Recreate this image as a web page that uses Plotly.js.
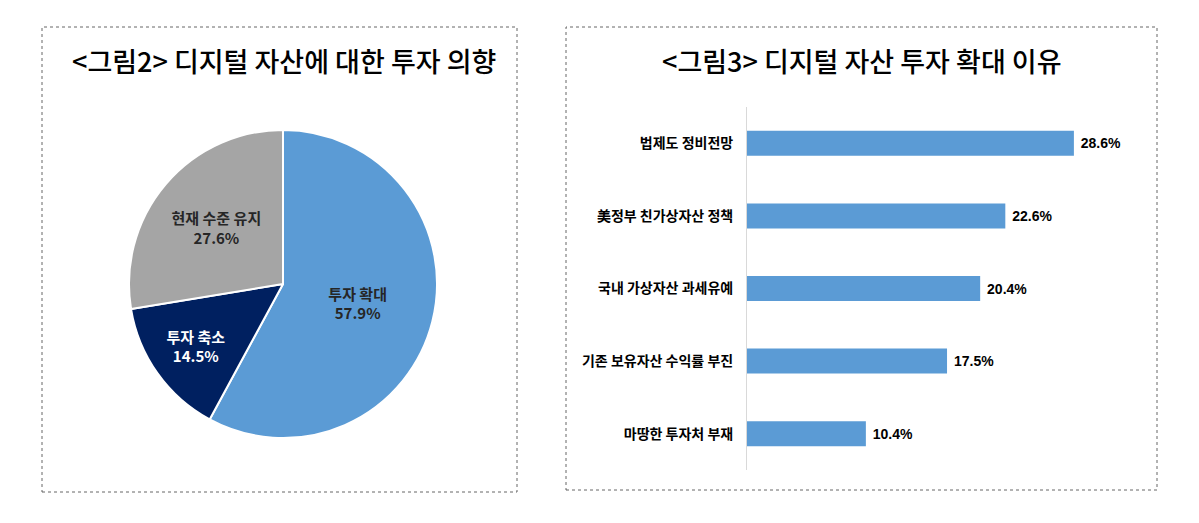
<!DOCTYPE html>
<html>
<head>
<meta charset="utf-8">
<script src="https://cdn.plot.ly/plotly-3.0.1.min.js"></script>
<style>
  html, body { margin: 0; padding: 0; background: #fff; }
  #chart { width: 1199px; height: 523px; }
</style>
</head>
<body>
<div id="chart"></div>
<script>
// <그림2> pie: investment intention
var pieLabels = ['투자 확대', '투자 축소', '현재 수준 유지'];
var pieValues = [57.9, 14.5, 27.6];
var pieColors = ['#5B9BD5', '#002060', '#A5A5A5'];
var pieTextColors = ['#262626', '#ffffff', '#262626'];

// <그림3> bars: reasons for expanding investment
var reasonLabels = ['법제도 정비전망', '美정부 친가상자산 정책', '국내 가상자산 과세유예', '기존 보유자산 수익률 부진', '마땅한 투자처 부재'];
var reasonValues = [28.6, 22.6, 20.4, 17.5, 10.4];

var W = 1199, H = 523;
function px(x) { return x / W; }
function py(y) { return (H - y) / H; }

var krFont = '"Noto Sans CJK KR", "Noto Sans", sans-serif';

var pie = {
  type: 'pie',
  labels: pieLabels,
  values: pieValues,
  sort: false,
  direction: 'clockwise',
  rotation: 0,
  marker: { colors: pieColors, line: { color: '#ffffff', width: 2 } },
  texttemplate: '<b>%{label}</b><br><b>%{value:.1f}%</b>',
  textposition: 'inside',
  insidetextorientation: 'horizontal',
  insidetextfont: { family: krFont, size: 15, color: pieTextColors },
  hoverinfo: 'none',
  showlegend: false,
  domain: { x: [px(283 - 154), px(283 + 154)], y: [py(284 + 154), py(284 - 154)] }
};

var bars = {
  type: 'bar',
  orientation: 'h',
  x: reasonValues,
  y: reasonLabels,
  xaxis: 'x',
  yaxis: 'y',
  marker: { color: '#5B9BD5' },
  texttemplate: ' %{x:.1f}%',
  textposition: 'outside',
  cliponaxis: false,
  textfont: { family: '"Liberation Sans Narrow", "Liberation Sans", Arial, sans-serif', size: 14, color: '#000', weight: 'bold' },
  hoverinfo: 'none',
  showlegend: false
};

var layout = {
  width: W,
  height: H,
  margin: { l: 0, r: 0, t: 0, b: 0 },
  paper_bgcolor: '#ffffff',
  plot_bgcolor: 'rgba(0,0,0,0)',
  bargap: 0.655,
  xaxis: {
    domain: [px(747), px(747 + 35 * 11.43)],
    range: [0, 35],
    showgrid: false, zeroline: false, showline: false,
    showticklabels: false, ticks: ''
  },
  yaxis: {
    domain: [py(470), py(107)],
    autorange: 'reversed',
    showgrid: false, zeroline: false,
    showline: true, linecolor: '#d9d9d9', linewidth: 1,
    ticks: '', ticklabelstandoff: 10,
    tickfont: { family: krFont, size: 14, color: '#000', weight: 'bold' }
  },
  shapes: [
    { type: 'rect', xref: 'paper', yref: 'paper', x0: px(42), x1: px(517), y0: py(492), y1: py(27),
      line: { color: '#666', width: 1, dash: 'dot' } },
    { type: 'rect', xref: 'paper', yref: 'paper', x0: px(566), x1: px(1157), y0: py(490), y1: py(27),
      line: { color: '#666', width: 1, dash: 'dot' } }
  ],
  annotations: [
    { text: '<그림2> 디지털 자산에 대한 투자 의향', xref: 'paper', yref: 'paper', x: px(284), y: py(61),
      xanchor: 'center', yanchor: 'middle', showarrow: false,
      font: { family: krFont, size: 27, color: '#000', weight: 500 } },
    { text: '<그림3> 디지털 자산 투자 확대 이유', xref: 'paper', yref: 'paper', x: px(861), y: py(61),
      xanchor: 'center', yanchor: 'middle', showarrow: false,
      font: { family: krFont, size: 27, color: '#000', weight: 500 } }
  ]
};

Plotly.newPlot('chart', [pie, bars], layout, { displayModeBar: false, staticPlot: true });
</script>
</body>
</html>
